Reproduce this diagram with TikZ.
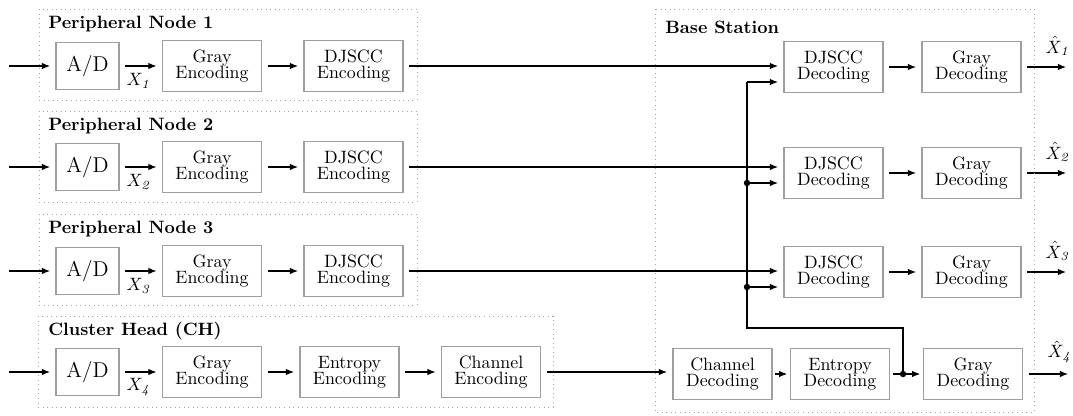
\documentclass[tikz,border=0pt]{standalone}
\usetikzlibrary{arrows.meta}
\tikzset{
  blk/.style={draw=gray!75, line width=0.7pt, minimum width=55.5pt, minimum height=28.5pt, inner sep=0pt, align=center, font=\fontsize{10}{9.2}\selectfont},
  adc/.style={blk, minimum width=35.3pt, minimum height=26.2pt, font=\large},
  grp/.style={draw=gray!70, dotted, line width=0.55pt},
  ttl/.style={anchor=west, font=\bfseries},
  lbl/.style={anchor=south, inner sep=0.5pt},
  conn/.style={-{Latex[length=4.5pt,width=3.6pt]}, line width=0.6pt, shorten <=3pt, shorten >=3pt},
  dot/.style={circle, fill=black, inner sep=0pt, minimum size=3.6pt},
}
\begin{document}
\begin{tikzpicture}[x=0.56pt, y=-0.56pt]
        \useasboundingbox (0,0) rectangle (1073,415);
        % peripheral nodes and their decoders
        \foreach \i/\t/\y/\d in {1/9/66/67, 2/111/167/173, 3/214/271/272} {
                \draw[grp] (39,\t) rectangle (417,\t+91);
                \node[ttl] (pn\i) at (42,\t+15) {Peripheral Node \i};
                \node[adc] (ad\i) at (87.5,\y) {A/D};
                \node[blk] (ge\i) at (212,\y) {Gray\\Encoding};
                \node[blk] (de\i) at (353.5,\y) {DJSCC\\Encoding};
                \node[blk] (dd\i) at (833.5,\d) {DJSCC\\Decoding};
                \node[blk] (gd\i) at (971.5,\d) {Gray\\Decoding};
                \coordinate (in\i) at (9,\y);
                \coordinate (out\i) at (1066,\d);
                \coordinate (j\i) at (747,\y+16);
                \draw[conn, shorten <=0pt] (in\i) -- (ad\i);
                \draw[conn] (ad\i) -- (ge\i);
                \node (x\i) at (139,\y+15) {$X_{\mathit{\i}}$};
                \draw[conn] (ge\i) -- (de\i);
                \draw[conn] (de\i.east) -- (de\i.east -| dd\i.west);
                \draw[conn, shorten <=0pt] (j\i) -- (j\i -| dd\i.west);
                \draw[conn] (dd\i) -- (gd\i);
                \draw[conn, shorten >=0pt] (gd\i.east) -- (out\i);
                \node[lbl] (xh\i) at (1058,\d-10) {$\hat{X}_{\mathit{\i}}$};
            }
        % cluster head
        \draw[grp] (38,316) rectangle (553,407);
        \node[ttl] (ch) at (42,331) {Cluster Head (CH)};
        \node[adc] (ad4) at (87.5,372) {A/D};
        \node[blk] (ge4) at (212,372) {Gray\\Encoding};
        \node[blk] (ee4) at (349.5,372) {Entropy\\Encoding};
        \node[blk] (ce4) at (491,372) {Channel\\Encoding};
        \coordinate (in4) at (9,372);
        \draw[conn, shorten <=0pt] (in4) -- (ad4);
        \draw[conn] (ad4) -- (ge4);
        \node (x4) at (139,387) {$X_{\mathit{4}}$};
        \draw[conn] (ge4) -- (ee4);
        \draw[conn] (ee4) -- (ce4);
        % base station
        \draw[grp] (655,9) rectangle (1034,412);
        \node[ttl] (bs) at (659,27) {Base Station};
        \node[blk] (cd4) at (722.5,374) {Channel\\Decoding};
        \node[blk] (ed4) at (840,374) {Entropy\\Decoding};
        \node[blk] (gd4) at (973,374) {Gray\\Decoding};
        \coordinate (out4) at (1068,374);
        \draw[conn] (ce4.east) -- (ce4.east -| cd4.west);
        \draw[conn, shorten <=1.5pt, shorten >=1.5pt] (cd4) -- (ed4);
        \draw[conn, shorten <=1.5pt, shorten >=1.5pt] (ed4) -- (gd4);
        \draw[conn, shorten >=0pt] (gd4.east) -- (out4);
        \node[lbl] (xh4) at (1060,364) {$\hat{X}_{\mathit{4}}$};
        % side information to the DJSCC decoders
        \coordinate (jt) at (903,374);
        \draw[line width=0.6pt] (j1) -- (747,328) -| (jt);
        \node[dot] at (j2) {};
        \node[dot] at (j3) {};
        \node[dot] at (jt) {};
    \end{tikzpicture}
\end{document}
